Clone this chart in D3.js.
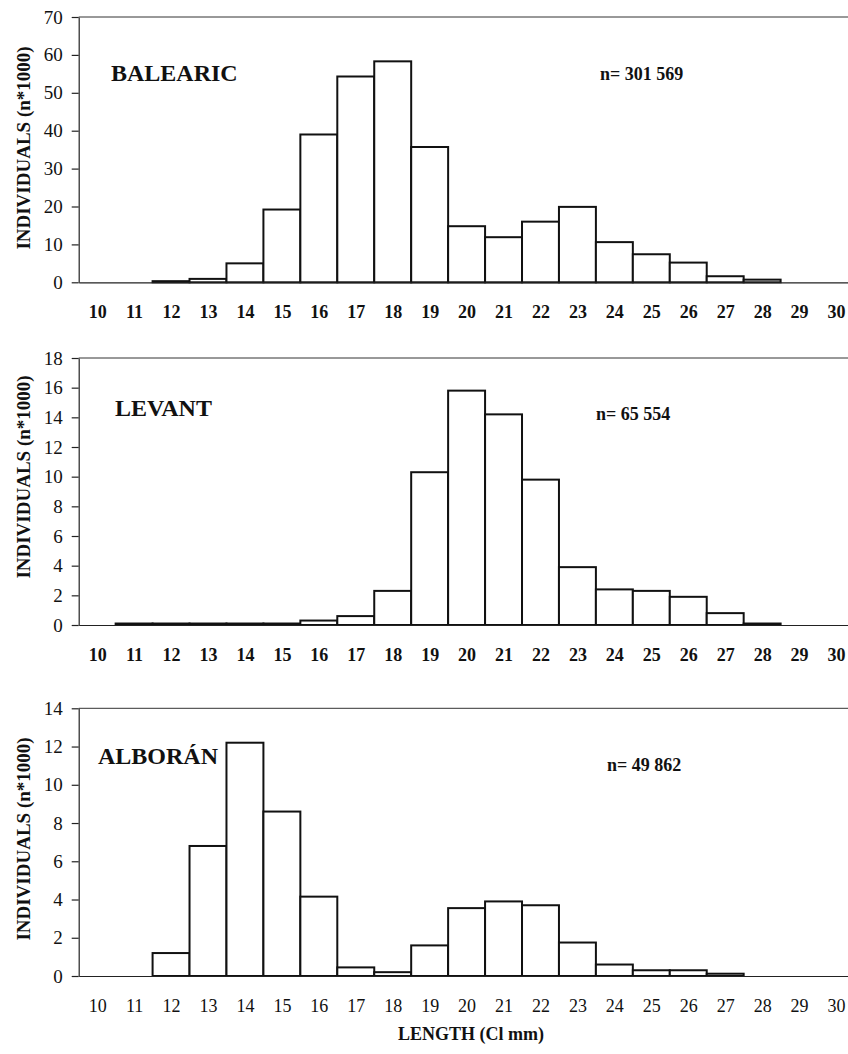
<!DOCTYPE html>
<html>
<head>
<meta charset="utf-8">
<script src="https://cdn.jsdelivr.net/npm/d3@7"></script>
<style>
    body { margin: 0; background: #fff; }
    svg { display: block; font-family: "Liberation Serif", "Times New Roman", serif; }
</style>
</head>
<body>
<script>
// Length classes (carapace length, mm)
const lengths = [10, 11, 12, 13, 14, 15, 16, 17, 18, 19, 20, 21, 22, 23, 24, 25, 26, 27, 28, 29, 30];

// Individuals (n*1000) per length class
const balearic = [0, 0, 0.3, 0.9, 5.0, 19.2, 39.0, 54.3, 58.3, 35.7, 14.8, 11.9, 16.0, 19.9, 10.6, 7.4, 5.2, 1.6, 0.7, 0, 0];
const levant = [0, 0.1, 0.1, 0.1, 0.1, 0.1, 0.3, 0.6, 2.3, 10.3, 15.8, 14.2, 9.8, 3.9, 2.4, 2.3, 1.9, 0.8, 0.1, 0, 0];
const alboran = [0, 0, 1.2, 6.8, 12.2, 8.6, 4.15, 0.45, 0.2, 1.6, 3.55, 3.9, 3.7, 1.75, 0.6, 0.3, 0.3, 0.12, 0, 0, 0];

const regionNames = ['BALEARIC', 'LEVANT', 'ALBORÁN'];
const sampleSizes = ['n= 301 569', 'n= 65 554', 'n= 49 862'];
const yMaxima = [70, 18, 14];
const yTickSteps = [10, 2, 2];

const yTitle = 'INDIVIDUALS (n*1000)';
const xTitle = 'LENGTH (Cl mm)';

const svgWidth = 848;
const svgHeight = 1054;

const svg = d3.select('body').append('svg')
    .attr('width', svgWidth)
    .attr('height', svgHeight);

// panel layout
const panels = [
    { values: balearic, top: 17, zero: 282.3, titleY: 148, name: [111, 81], n: [600, 80], boldTicks: true },
    { values: levant, top: 358, zero: 625, titleY: 477, name: [115, 416], n: [596, 420], boldTicks: true },
    { values: alboran, top: 708.3, zero: 976, titleY: 839, name: [98, 764], n: [607, 771], boldTicks: false }
];

const axisX = 78.7;
const xScale = d3.scaleLinear()
    .domain([9.5, 30.5])
    .range([axisX, 854.5]);

panels.forEach((p, i) => {
    const yScale = d3.scaleLinear()
        .domain([0, yMaxima[i]])
        .range([p.zero, p.top]);

    const g = svg.append('g');

    // top frame line
    g.append('line')
        .attr('x1', axisX).attr('x2', svgWidth + 10)
        .attr('y1', p.top).attr('y2', p.top)
        .attr('stroke', '#333')
        .attr('stroke-width', 1);

    // bars
    const data = lengths.map((l, j) => ({ length: l, value: p.values[j] })).filter(d => d.value > 0);
    g.selectAll('.bar')
        .data(data)
        .enter().append('rect')
        .attr('class', 'bar')
        .attr('x', d => xScale(d.length - 0.5))
        .attr('y', d => yScale(d.value))
        .attr('width', d => xScale(d.length + 0.5) - xScale(d.length - 0.5))
        .attr('height', d => p.zero - yScale(d.value))
        .attr('fill', '#fff')
        .attr('stroke', '#111')
        .attr('stroke-width', 2);

    // x axis
    const xAxis = d3.axisBottom(xScale)
        .tickValues(lengths)
        .tickFormat(d3.format('d'))
        .tickSize(0)
        .tickPadding(23);
    const xg = g.append('g')
        .attr('transform', `translate(0,${p.zero})`)
        .call(xAxis);
    xg.select('.domain').attr('stroke', '#222').attr('stroke-width', 1.2);
    xg.selectAll('text')
        .attr('fill', '#111')
        .style('font-family', '"Liberation Serif", serif')
        .style('font-size', '18px')
        .style('font-weight', p.boldTicks ? 'bold' : 'normal');

    // y axis
    const yAxis = d3.axisLeft(yScale)
        .tickValues(d3.range(0, yMaxima[i] + 0.001, yTickSteps[i]))
        .tickSize(7)
        .tickSizeOuter(0)
        .tickPadding(9);
    const yg = g.append('g')
        .attr('transform', `translate(${axisX},0)`)
        .call(yAxis);
    yg.select('.domain').attr('stroke', '#222').attr('stroke-width', 1.2);
    yg.selectAll('line').attr('stroke', '#222').attr('stroke-width', 1.2);
    yg.selectAll('text')
        .attr('fill', '#111')
        .style('font-family', '"Liberation Serif", serif')
        .style('font-size', '19px');

    // y title
    g.append('text')
        .attr('transform', `translate(23,${p.titleY}) rotate(-90)`)
        .attr('text-anchor', 'middle')
        .attr('dy', '0.35em')
        .style('font-size', '19px')
        .style('font-weight', 'bold')
        .attr('fill', '#111')
        .text(yTitle);

    // region name and sample size
    g.append('text')
        .attr('x', p.name[0])
        .attr('y', p.name[1])
        .style('font-size', '24px')
        .style('font-weight', 'bold')
        .attr('fill', '#111')
        .text(regionNames[i]);

    g.append('text')
        .attr('x', p.n[0])
        .attr('y', p.n[1])
        .style('font-size', '18px')
        .style('font-weight', 'bold')
        .attr('fill', '#111')
        .text(sampleSizes[i]);
});

// x title
svg.append('text')
    .attr('x', 471)
    .attr('y', 1040)
    .attr('text-anchor', 'middle')
    .style('font-size', '18px')
    .style('font-weight', 'bold')
    .attr('fill', '#111')
    .text(xTitle);
</script>
</body>
</html>
